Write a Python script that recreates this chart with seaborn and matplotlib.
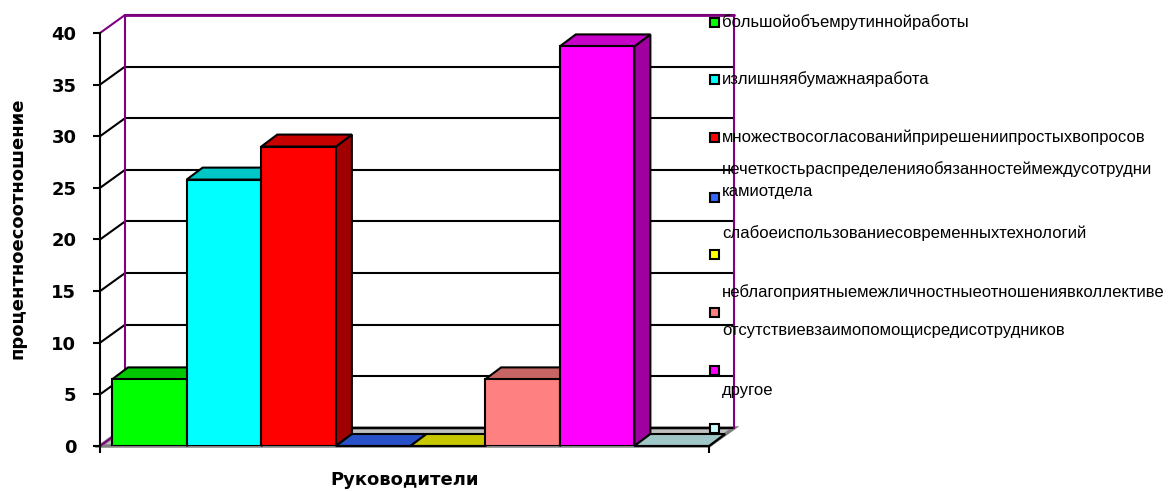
import numpy as np
import pandas as pd
import matplotlib
matplotlib.use("Agg")
import matplotlib.pyplot as plt
import seaborn as sns
from matplotlib.patches import Polygon, Rectangle
from matplotlib.colors import to_rgb

categories = [
    'большойобъемрутиннойработы',
    'излишняябумажнаяработа',
    'множествосогласованийприрешениипростыхвопросов',
    'нечеткостьраспределенияобязанностеймеждусотрудни\nкамиотдела',
    'слабоеиспользованиесовременныхтехнологий',
    'неблагоприятныемежличностныеотношениявколлективе',
    'отсутствиевзаимопомощисредисотрудников',
    'другое',
]
values = [6.45, 25.8, 29.0, 0, 0, 6.45, 38.7, 0]
colors = ['#00FF00', '#00FFFF', '#FF0000', '#3366FF',
          '#FFFF00', '#FF8080', '#FF00FF', '#CCFFFF']
yticks = [0, 5, 10, 15, 20, 25, 30, 35, 40]
ylabel = 'процентноесоотношение'
xlabel = 'Руководители'

W, H = 1174, 491
sns.set_style('white')
plt.rcParams['font.family'] = ['DejaVu Sans']
plt.rcParams['text.color'] = 'black'
plt.rcParams['xtick.color'] = 'black'
plt.rcParams['ytick.color'] = 'black'

fig = plt.figure(figsize=(W / 100, H / 100), dpi=100)

# front plane of the box (pixel layout of the original)
ax_l, ax_r, ax_b, ax_t = 100, 709, 446, 33
ax = fig.add_axes([ax_l / W, (H - ax_b) / H, (ax_r - ax_l) / W, (ax_b - ax_t) / H])
ax.patch.set_visible(False)

slot = (709 - 112) / 8
xmin = -0.5 - 12 / slot
xmax = 7.5
ax.set_xlim(xmin, xmax)
ax.set_ylim(0, 40)

ppx = (ax_r - ax_l) / (xmax - xmin)
ppy = (ax_b - ax_t) / 40.0
DX, DY = 25 / ppx, 18 / ppy      # depth of the walls
BX, BY = 16 / ppx, 12 / ppy      # depth of the bars

purple = '#800080'

# floor
ax.add_patch(Polygon([(xmin, 0), (xmax, 0), (xmax + DX, DY), (xmin + DX, DY)],
                     closed=True, facecolor='#c0c0c0', edgecolor='#808080',
                     lw=2.5, zorder=0.5, clip_on=False))

# back wall grid + side wall diagonals
for v in yticks:
    ax.plot([xmin + DX, xmax + DX], [v + DY, v + DY], color='black', lw=1.5,
            zorder=1, clip_on=False)
    c = purple if v in (0, 40) else 'black'
    ax.plot([xmin, xmin + DX], [v, v + DY], color=c, lw=1.5, zorder=1, clip_on=False)
ax.plot([xmin + DX, xmin + DX], [DY, 40 + DY], color=purple, lw=1.5, zorder=1.1, clip_on=False)
ax.plot([xmax + DX, xmax + DX], [DY, 40 + DY], color=purple, lw=1.5, zorder=1.1, clip_on=False)
ax.plot([xmin + DX, xmax + DX], [40 + DY, 40 + DY], color=purple, lw=2, zorder=1.1, clip_on=False)

df = pd.DataFrame({'cat': categories, 'val': values})
sns.barplot(data=df, x='cat', y='val', hue='cat', palette=colors, width=1.0,
            saturation=1, edgecolor='black', linewidth=1.5, legend=False, ax=ax)

bars = [q for q in ax.patches if isinstance(q, Rectangle)]
for i, p in enumerate(bars):
    x0, w, h = p.get_x(), p.get_width(), p.get_height()
    base = np.array(to_rgb(colors[i]))
    z = 3 + i * 0.1
    p.set_zorder(z)
    # side and top faces
    ax.add_patch(Polygon([(x0 + w, 0), (x0 + w, h), (x0 + w + BX, h + BY), (x0 + w + BX, BY)],
                         closed=True, facecolor=base * 0.63, edgecolor='black',
                         lw=1.5, zorder=z - 0.05, clip_on=False))
    ax.add_patch(Polygon([(x0, h), (x0 + w, h), (x0 + w + BX, h + BY), (x0 + BX, h + BY)],
                         closed=True, facecolor=base * 0.78, edgecolor='black',
                         lw=1.5, zorder=z - 0.04, clip_on=False))

for s in ['top', 'right', 'bottom']:
    ax.spines[s].set_visible(False)
ax.spines['left'].set_color('black')
ax.spines['left'].set_linewidth(1.5)
ax.set_yticks(yticks)
ax.set_yticklabels([str(v) for v in yticks], fontsize=13, fontweight='bold')
ax.set_xticks([xmin, xmax])
ax.set_xticklabels(['', ''])
ax.tick_params(axis='both', direction='out', length=5, width=1.5, color='black',
               left=True, bottom=True)
ax.tick_params(axis='y', pad=12)
ax.set_xlabel('')
ax.set_ylabel('')

fig.text(405 / W, 1 - 480 / H, xlabel, ha='center', va='center',
         fontsize=13, fontweight='bold')
fig.text(18 / W, 1 - 228 / H, ylabel, ha='center', va='center', rotation=90,
         fontsize=13, fontweight='bold')

# legend, laid out as in the original (markers and texts drift apart)
marker_y = [22, 79, 137, 197, 254, 312, 370, 428]
text_y = [22, 79, 137, 180, 233, 292, 330, 390]
for i, lab in enumerate(categories):
    fig.add_artist(Rectangle(((714 - 4.5) / W, 1 - (marker_y[i] + 4.5) / H), 9 / W, 9 / H,
                             transform=fig.transFigure, facecolor=colors[i],
                             edgecolor='black', lw=1.5))
    fig.text(722 / W, 1 - text_y[i] / H, lab, ha='left', va='center',
             fontsize=12, linespacing=1.65, family=['Liberation Sans', 'DejaVu Sans'])

fig.savefig('out.png', dpi=100)
